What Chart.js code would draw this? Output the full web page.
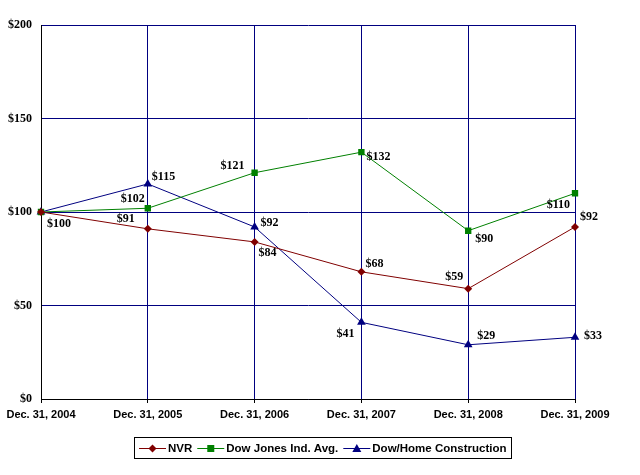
<!DOCTYPE html>
<html>
<head>
<meta charset="utf-8">
<script src="https://cdn.jsdelivr.net/npm/chart.js@4/dist/chart.umd.min.js"></script>
<style>
  html, body { margin: 0; padding: 0; background: #ffffff; }
  #wrap { width: 640px; height: 475px; position: relative; }
</style>
</head>
<body>
<div id="wrap"><canvas id="c" width="640" height="475"></canvas></div>
<script>
const categories = ["Dec. 31, 2004", "Dec. 31, 2005", "Dec. 31, 2006", "Dec. 31, 2007", "Dec. 31, 2008", "Dec. 31, 2009"];
const nvr = [100, 91, 84, 68, 59, 92];
const djia = [100, 102, 121, 132, 90, 110];
const dowHome = [100, 115, 92, 41, 29, 33];
const yTicks = [0, 50, 100, 150, 200];

// label placement (style): [dx, dy, align] relative to the point; null = no label
const labelPlacement = [
  [[6, 12, 'left'], [-13, -10, 'right'], [4, 11, 'left'], [4, -8, 'left'], [-5, -12, 'right'], [5, -10, 'left']],
  [null, [-3, -9, 'right'], [-10, -7, 'right'], [5, 5, 'left'], [7, 8, 'left'], [-5, 12, 'right']],
  [null, [4, -7, 'left'], [6, -4, 'left'], [-7, 12, 'right'], [9, -9, 'left'], [9, -1, 'left']]
];

const NAVY = '#000080', GREEN = '#008000', RED = '#800000';
const sansBold = 'bold 11.5px "Liberation Sans", Arial, sans-serif';
const serifBold = 'bold 12px "Liberation Serif", "Times New Roman", serif';

const labelPlugin = {
  id: 'valueLabels',
  afterDatasetsDraw(chart) {
    const ctx = chart.ctx;
    ctx.save();
    ctx.font = serifBold;
    ctx.fillStyle = '#000';
    ctx.textBaseline = 'middle';
    chart.data.datasets.forEach((ds, di) => {
      const meta = chart.getDatasetMeta(di);
      meta.data.forEach((pt, i) => {
        const p = labelPlacement[di][i];
        if (!p) return;
        ctx.textAlign = p[2];
        ctx.fillText('$' + ds.data[i], pt.x + p[0], pt.y + p[1]);
      });
    });
    ctx.restore();
  }
};

function drawMarker(ctx, style, x, y, color) {
  ctx.fillStyle = color;
  ctx.beginPath();
  if (style === 'rectRot') {
    ctx.moveTo(x, y - 4); ctx.lineTo(x + 4, y); ctx.lineTo(x, y + 4); ctx.lineTo(x - 4, y);
  } else if (style === 'rect') {
    ctx.rect(x - 3.5, y - 3.5, 7, 7);
  } else {
    ctx.moveTo(x, y - 4.5); ctx.lineTo(x + 4.5, y + 3.5); ctx.lineTo(x - 4.5, y + 3.5);
  }
  ctx.closePath();
  ctx.fill();
}

const legendPlugin = {
  id: 'boxLegend',
  afterDraw(chart) {
    const ctx = chart.ctx;
    ctx.save();
    ctx.font = sansBold;
    const lineLen = 27, gapAfterLine = 2, itemGap = 5, pad = 5;
    const items = chart.data.datasets.map(ds => ({ ds, w: ctx.measureText(ds.label).width }));
    let total = pad * 2;
    items.forEach((it, i) => { total += lineLen + gapAfterLine + it.w + (i < items.length - 1 ? itemGap : 0); });
    const cx = 323, top = 437, h = 21;
    const left = Math.round(cx - total / 2);
    ctx.strokeStyle = '#000';
    ctx.lineWidth = 1;
    ctx.strokeRect(left + 0.5, top + 0.5, Math.round(total), h);
    const cy = top + h / 2 + 0.5;
    let x = left + pad;
    items.forEach(it => {
      const ds = it.ds;
      ctx.strokeStyle = ds.borderColor;
      ctx.lineWidth = 1;
      ctx.beginPath();
      ctx.moveTo(x, Math.round(cy) + 0.5);
      ctx.lineTo(x + lineLen, Math.round(cy) + 0.5);
      ctx.stroke();
      drawMarker(ctx, ds.pointStyle, x + lineLen / 2, Math.round(cy) + 0.5, ds.backgroundColor);
      x += lineLen + gapAfterLine;
      ctx.fillStyle = '#000';
      ctx.textAlign = 'left';
      ctx.textBaseline = 'middle';
      ctx.fillText(ds.label, x, cy + 1);
      x += it.w + itemGap;
    });
    ctx.restore();
  }
};

new Chart(document.getElementById('c'), {
  type: 'line',
  data: {
    labels: categories,
    datasets: [
      { label: 'NVR', data: nvr, borderColor: RED, backgroundColor: RED, borderWidth: 1,
        pointStyle: 'rectRot', pointRadius: 4, pointBorderWidth: 0, tension: 0 },
      { label: 'Dow Jones Ind. Avg.', data: djia, borderColor: GREEN, backgroundColor: GREEN, borderWidth: 1,
        pointStyle: 'rect', pointRadius: 4.5, pointBorderWidth: 0, tension: 0 },
      { label: 'Dow/Home Construction', data: dowHome, borderColor: NAVY, backgroundColor: NAVY, borderWidth: 1,
        pointStyle: 'triangle', pointRadius: 5, pointBorderWidth: 0, tension: 0 }
    ]
  },
  options: {
    responsive: false,
    animation: false,
    devicePixelRatio: 1,
    layout: { padding: { top: 25, right: 65, bottom: 46, left: 0 } },
    plugins: { legend: { display: false }, tooltip: { enabled: false } },
    scales: {
      x: {
        type: 'category',
        offset: false,
        grid: { color: NAVY, lineWidth: 1, offset: false, tickLength: 4, tickColor: '#000', drawTicks: true },
        border: { color: '#000', width: 1 },
        ticks: { font: { family: '"Liberation Sans", Arial, sans-serif', size: 11, weight: 'bold' }, color: '#000',
                 maxRotation: 0, autoSkip: false, padding: 5 },
        afterFit(scale) { scale.height = 30; }
      },
      y: {
        min: 0, max: 200,
        afterBuildTicks(scale) { scale.ticks = yTicks.map(v => ({ value: v })); },
        grid: { color: NAVY, lineWidth: 1, drawTicks: false },
        border: { color: '#000', width: 1 },
        ticks: { font: { family: '"Liberation Serif", "Times New Roman", serif', size: 12, weight: 'bold' }, color: '#000',
                 padding: 9, callback: v => '$' + v },
        afterFit(scale) { scale.width = 41; }
      }
    }
  },
  plugins: [labelPlugin, legendPlugin]
});
</script>
</body>
</html>
